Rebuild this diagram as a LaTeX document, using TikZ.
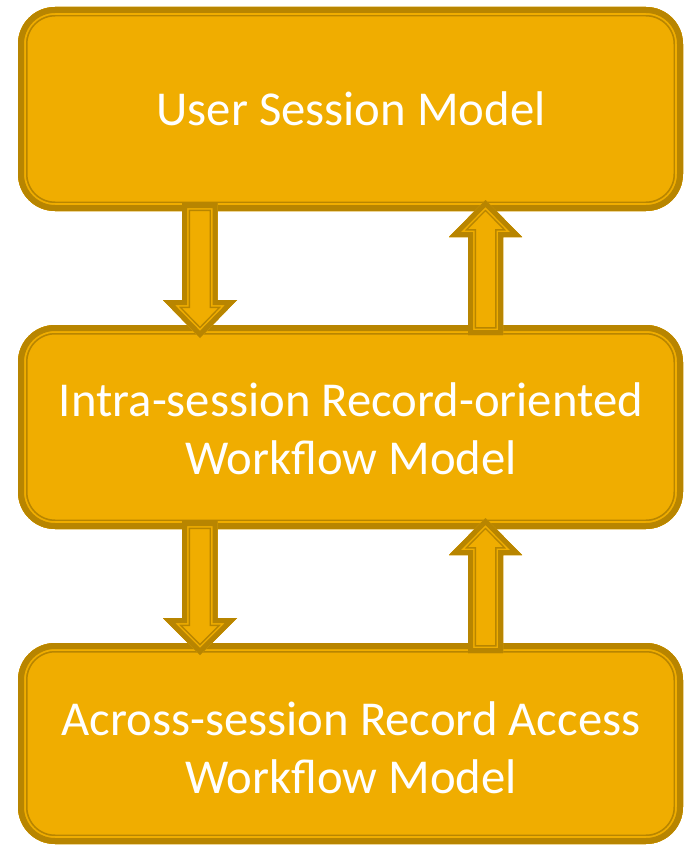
\documentclass[tikz,border=0pt]{standalone}
\usepackage{fontspec}
\setmainfont{Carlito}
\definecolor{boxgold}{HTML}{F0AD00}
\definecolor{boxdark}{HTML}{B88500}
\newcommand\layered[5]{% #1 options, #2 path, #3 thick, #4 gap end, #5 thin end
  \begin{scope}
    \path[clip,#1] #2;
    \fill[boxgold,#1] #2;
    \draw[boxdark,line width=2*#5,#1] #2;
    \draw[boxgold,line width=2*#4,#1] #2;
    \draw[boxdark,line width=2*#3,#1] #2;
  \end{scope}}
\tikzset{
  lbl/.style={text=white,font=\fontsize{48.7}{58}\selectfont,align=center,inner sep=0pt},
}
\begin{document}
\begin{tikzpicture}[x=1pt,y=-1pt]
\useasboundingbox (0,0) rectangle (687,845);
% boxes
\layered{rounded corners=37pt}{(18,7) rectangle (683,211)}{6}{7.8}{9.5}
\layered{rounded corners=37pt}{(18,325) rectangle (683,529)}{6}{7.8}{9.5}
\layered{rounded corners=37pt}{(18,643) rectangle (683,844)}{6}{7.8}{9.5}
% down arrows
\layered{}{(182,203) -- (217.5,203) -- (217.5,300) -- (237,300) -- (200,338) -- (163,300) -- (182,300) -- cycle}{5}{6.5}{8}
\layered{}{(182,521) -- (217.5,521) -- (217.5,618) -- (237,618) -- (200,655) -- (163,618) -- (182,618) -- cycle}{5}{6.5}{8}
% up arrows
\layered{}{(468,335) -- (503,335) -- (503,237) -- (522,237) -- (485.5,200) -- (449,237) -- (468,237) -- cycle}{5}{6.5}{8}
\layered{}{(468,653) -- (503,653) -- (503,555) -- (522,555) -- (485.5,518) -- (449,555) -- (468,555) -- cycle}{5}{6.5}{8}
% labels
\node[lbl] (usm) at (351,109) {User Session Model};
\node[lbl] (intra) at (351,429) {Intra-session Record-oriented\\Workflow Model};
\node[lbl] (across) at (351,748) {Across-session Record Access\\Workflow Model};
\end{tikzpicture}
\end{document}
